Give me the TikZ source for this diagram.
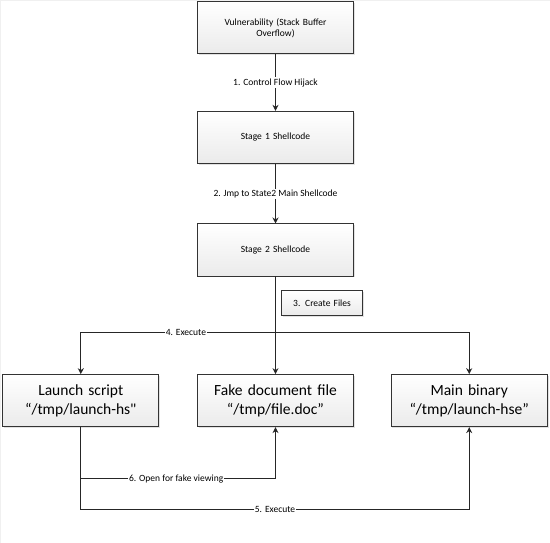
\documentclass[tikz,border=0pt]{standalone}
\usepackage{fontspec}
\setmainfont{Carlito}
\usepackage{tikz}
\usetikzlibrary{arrows.meta, positioning, shadows, calc}

\begin{document}
\begin{tikzpicture}[x=1pt, y=-1pt, font=\fontsize{9.5}{11}\selectfont]

  \tikzset{
    stagebox/.style={rectangle, draw=gray!40!black, line width=0.9pt,
      top color=white, bottom color=gray!16,
      drop shadow={shadow xshift=1.2pt, shadow yshift=-1.2pt, fill=gray!45},
      minimum width=156pt, minimum height=52pt, text width=145pt,
      align=center, inner sep=2pt},
    filebox/.style={stagebox,
      font=\fontsize{15.5}{18.5}\selectfont},
    notebox/.style={stagebox, minimum width=81pt, minimum height=25pt,
      text width=75pt},
    flowarrow/.style={-{Stealth[length=6pt, width=6pt]},
      line width=1pt, gray!30!black},
    steplabel/.style={fill=white, inner sep=1pt, text=black}
  }

  \path[draw=gray!12, fill=white] (0,0) rectangle (549,542);

  \node[stagebox] (vuln) at (275, 27.5)
    {Vulnerability (Stack Buffer\\ Overflow)};
  \node[stagebox] (stage1) at (275, 137) {Stage 1 Shellcode};
  \node[stagebox] (stage2) at (275, 249.5) {Stage 2 Shellcode};
  \node[notebox] (create) at (321.5, 302.5) {3. Create Files};

  \node[filebox] (launch) at (80.5, 400)
    {Launch script\\ ``/tmp/launch-hs\textquotedbl};
  \node[filebox] (fake) at (275, 400)
    {Fake document file\\ ``/tmp/file.doc''};
  \node[filebox] (mainbin) at (468.5, 400)
    {Main binary\\ ``/tmp/launch-hse''};

  \coordinate (split) at (275, 332);
  \coordinate (open6) at (275, 478);
  \coordinate (exec5) at (468.5, 509);

  \draw[flowarrow] (vuln) -- node[steplabel]
    {1. Control Flow Hijack} (stage1);
  \draw[flowarrow] (stage1) -- node[steplabel]
    {2. Jmp to State2 Main Shellcode} (stage2);
  \draw[flowarrow] (stage2) -- (fake);

  \draw[flowarrow] (split) -| node[steplabel, pos=0.23]
    {4. Execute} (launch);
  \draw[flowarrow] (split) -| (mainbin);

  \draw[flowarrow] (launch) |- (exec5) node[steplabel, pos=0.75]
    {5. Execute} -- (mainbin);
  \draw[flowarrow] (launch) |- (open6) node[steplabel, pos=0.745]
    {6. Open for fake viewing} -- (fake);

\end{tikzpicture}
\end{document}
